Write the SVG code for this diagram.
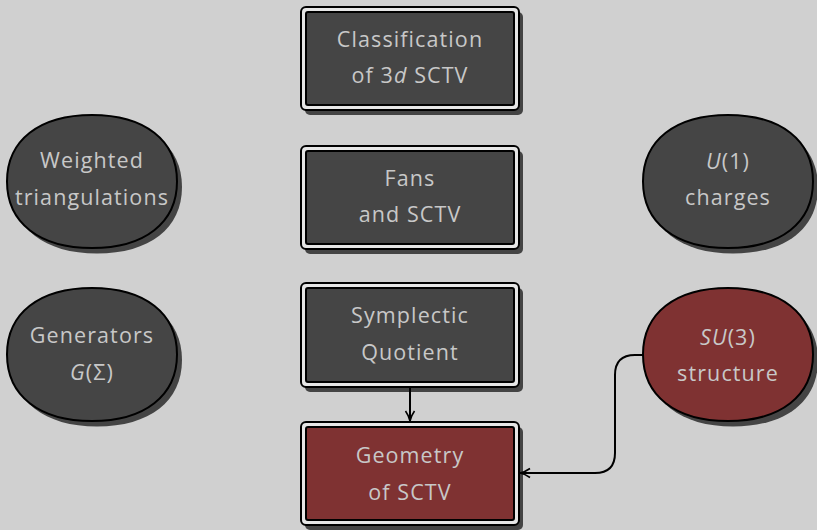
<svg xmlns="http://www.w3.org/2000/svg" width="817" height="530" viewBox="0 0 817 530">
  <defs>
    <marker id="arrow" viewBox="0 0 12 12" refX="11" refY="6" markerWidth="12" markerHeight="12" markerUnits="userSpaceOnUse" orient="auto">
      <path d="M1,1.5 Q6,5 11,6 Q6,7 1,10.5" fill="none" stroke="#000" stroke-width="1.6"/>
    </marker>
    <!-- slightly squared oval, centred on 0,0 -->
    <path id="oval" d="M85,0 C85,41.2 52.7,66.5 0,66.5 C-52.7,66.5 -85,41.2 -85,0 C-85,-41.2 -52.7,-66.5 0,-66.5 C52.7,-66.5 85,-41.2 85,0 Z"/>
  </defs>
  <style>
    .bg { fill: #d0d0d0; }
    .shadow { fill: #444444; }
    .frame { fill: #e6e6e6; stroke: #000; stroke-width: 2; }
    .dark { fill: #454545; stroke: #000; stroke-width: 2; }
    .red { fill: #7f3232; stroke: #000; stroke-width: 2; }
    .label { font-family: "Open Sans", "DejaVu Sans", sans-serif; font-size: 21.5px; letter-spacing: 1.1px; fill: #c8c8c8; text-anchor: middle; }
    .it { font-style: italic; }
    .wire { fill: none; stroke: #000; stroke-width: 2; }
  </style>

  <rect class="bg" x="0" y="0" width="817" height="530"/>

  <!-- rectangular process boxes -->
  <g id="classification">
    <rect class="shadow" x="305" y="12" width="218" height="103" rx="5"/>
    <rect class="frame" x="301" y="7" width="218" height="103" rx="5"/>
    <rect class="dark" x="306" y="12" width="208" height="93" rx="2"/>
    <text class="label" x="410" y="47">Classification</text>
    <text class="label" x="410" y="83">of 3<tspan class="it">d</tspan> SCTV</text>
  </g>

  <g id="fans">
    <rect class="shadow" x="305" y="151" width="218" height="103" rx="5"/>
    <rect class="frame" x="301" y="146" width="218" height="103" rx="5"/>
    <rect class="dark" x="306" y="151" width="208" height="93" rx="2"/>
    <text class="label" x="410" y="186">Fans</text>
    <text class="label" x="410" y="222">and SCTV</text>
  </g>

  <g id="symplectic">
    <rect class="shadow" x="305" y="288" width="218" height="104" rx="5"/>
    <rect class="frame" x="301" y="283" width="218" height="104" rx="5"/>
    <rect class="dark" x="306" y="288" width="208" height="94" rx="2"/>
    <text class="label" x="410" y="323">Symplectic</text>
    <text class="label" x="410" y="360">Quotient</text>
  </g>

  <g id="geometry">
    <rect class="shadow" x="305" y="427" width="218" height="103" rx="5"/>
    <rect class="frame" x="301" y="422" width="218" height="103" rx="5"/>
    <rect class="red" x="306" y="427" width="208" height="93" rx="2"/>
    <text class="label" x="410" y="463">Geometry</text>
    <text class="label" x="410" y="500">of SCTV</text>
  </g>

  <!-- rounded topic nodes -->
  <g id="weighted">
    <use href="#oval" class="shadow" x="97" y="187"/>
    <use href="#oval" class="dark" x="92" y="181.5"/>
    <text class="label" x="92" y="168">Weighted</text>
    <text class="label" x="92" y="205">triangulations</text>
  </g>

  <g id="generators">
    <use href="#oval" class="shadow" x="97" y="360"/>
    <use href="#oval" class="dark" x="92" y="354.5"/>
    <text class="label" x="92" y="343">Generators</text>
    <text class="label" x="92" y="380"><tspan class="it">G</tspan>(Σ)</text>
  </g>

  <g id="charges">
    <use href="#oval" class="shadow" x="733" y="187"/>
    <use href="#oval" class="dark" x="728" y="181.5"/>
    <text class="label" x="728" y="169"><tspan class="it">U</tspan>(1)</text>
    <text class="label" x="728" y="205">charges</text>
  </g>

  <g id="su3">
    <use href="#oval" class="shadow" x="733" y="360"/>
    <use href="#oval" class="red" x="728" y="354.5"/>
    <text class="label" x="728" y="345"><tspan class="it">SU</tspan>(3)</text>
    <text class="label" x="728" y="381">structure</text>
  </g>

  <!-- connectors -->
  <g id="connectors">
    <path class="wire" d="M410,388 L410,421" marker-end="url(#arrow)"/>
    <path class="wire" d="M643,355 L635,355 Q615,355 615,375 L615,453 Q615,473 595,473 L520,473" marker-end="url(#arrow)"/>
  </g>
</svg>
